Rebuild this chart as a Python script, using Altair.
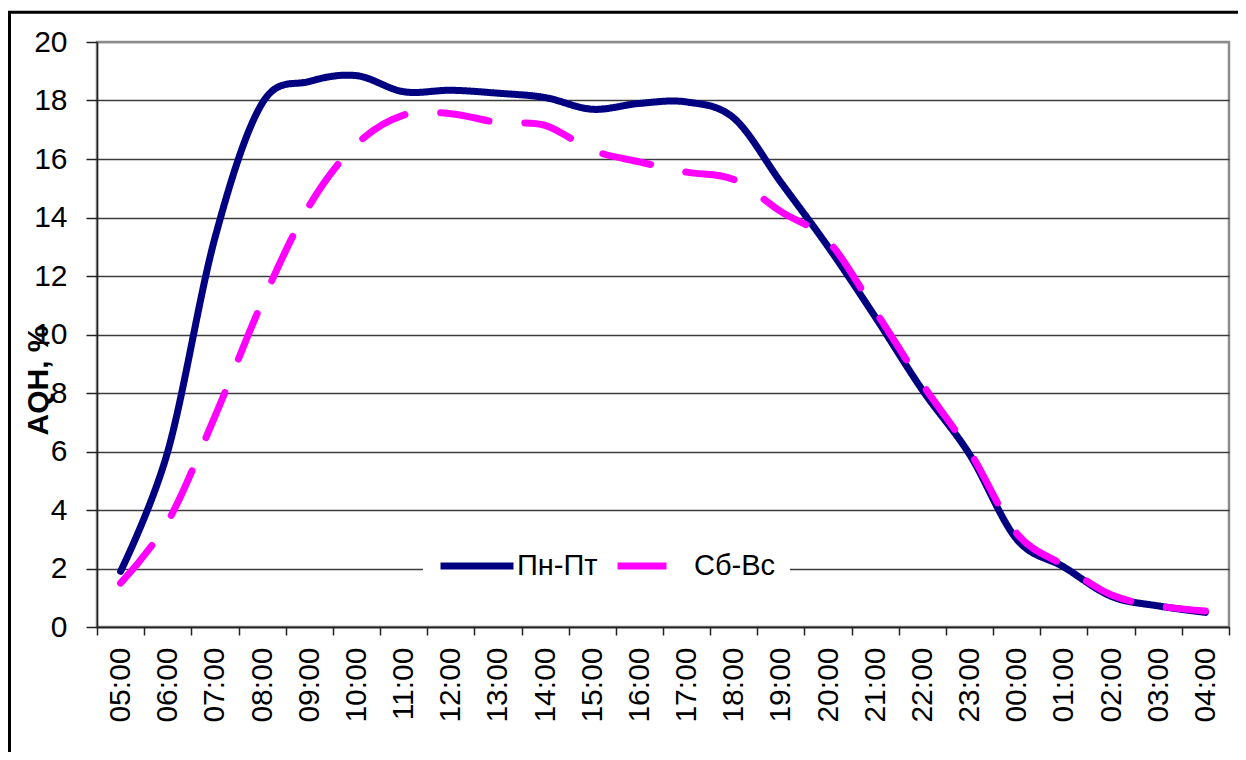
import altair as alt
import pandas as pd

FONT = "Liberation Sans"

hours = ["05:00", "06:00", "07:00", "08:00", "09:00", "10:00", "11:00", "12:00",
         "13:00", "14:00", "15:00", "16:00", "17:00", "18:00", "19:00", "20:00",
         "21:00", "22:00", "23:00", "00:00", "01:00", "02:00", "03:00", "04:00"]
weekday = [1.9, 6.0, 13.3, 17.9, 18.65, 18.85, 18.3, 18.35, 18.25, 18.1, 17.7, 17.9,
           17.95, 17.4, 15.2, 13.0, 10.6, 8.1, 5.9, 3.0, 2.05, 1.05, 0.72, 0.5]
weekend = [1.5, 3.6, 7.2, 11.1, 14.4, 16.5, 17.5, 17.55, 17.25, 17.15, 16.3, 15.9,
           15.55, 15.3, 14.2, 13.2, 10.8, 8.3, 6.0, 3.2, 2.1, 1.1, 0.72, 0.55]
series = ["Пн-Пт", "Сб-Вс"]
colors = ["#000080", "#ff00ff"]
y_ticks = [0, 2, 4, 6, 8, 10, 12, 14, 16, 18, 20]

rows = []
for s, vals in zip(series, [weekday, weekend]):
    for h, v in zip(hours, vals):
        rows.append({"hour": h, "series": s, "style": s, "value": v})
df = pd.DataFrame(rows)

grid_color = alt.condition("datum.value == 20", alt.value("#8c8c8c"), alt.value("#3c3c3c"))

lines = alt.Chart(df).mark_line(
    strokeWidth=7, strokeCap="round", strokeJoin="round", interpolate="cardinal"
).encode(
    x=alt.X("hour:N", sort=hours, bandPosition=0.5,
            scale=alt.Scale(type="band", paddingInner=0, paddingOuter=0),
            axis=alt.Axis(title=None, labelAngle=270, labelAlign="right", labelBaseline="middle",
                          labelFontSize=30, labelFont=FONT, labelColor="black", labelPadding=12,
                          labelOverlap=False, tickSize=8, tickBand="extent", tickColor="#222",
                          tickWidth=1.5, domainColor="#222", domainWidth=1.5, grid=False)),
    y=alt.Y("value:Q", scale=alt.Scale(domain=[0, 20], nice=False, zero=True),
            axis=alt.Axis(values=y_ticks, title="AQH, %", titleFontSize=30, titleFontWeight="bold",
                          titleFont=FONT, titleColor="black", titleX=-50, titleY=338, titleAngle=270,
                          titleAlign="center", titleBaseline="alphabetic",
                          labelFontSize=30, labelFont=FONT, labelColor="black", labelPadding=19,
                          tickSize=11, tickColor="#222", tickWidth=1.5,
                          domainColor="#222", domainWidth=1.5,
                          grid=True, gridColor=grid_color, gridWidth=1.5)),
    color=alt.Color("series:N", scale=alt.Scale(domain=series, range=colors),
                    legend=alt.Legend(title=None, orient="none", legendX=326, legendY=470,
                                      direction="horizontal", fillColor="white", padding=14,
                                      labelFontSize=29, labelFont=FONT, labelColor="black",
                                      labelOffset=0, columnPadding=5, labelLimit=300,
                                      symbolType="stroke", symbolStrokeWidth=7, symbolSize=5329)),
    strokeDash=alt.StrokeDash("style:N", scale=alt.Scale(domain=series, range=[[1, 0], [49, 36]]),
                              legend=None),
)

frame = alt.Chart(pd.DataFrame({"f": [0]})).mark_rect(
    filled=False, stroke="black", strokeWidth=3, clip=False
).encode(
    x=alt.value(-87.5), x2=alt.value(1150), y=alt.value(-29.7), y2=alt.value(760)
)

chart = alt.layer(lines, frame).properties(
    width=1132, height=585,
    padding={"left": 89, "top": 34, "right": 9, "bottom": 125},
    autosize=alt.AutoSizeParams(type="none"),
    background="white",
).configure_view(stroke="#8c8c8c", strokeWidth=2.5)

chart.save("out.html", embed_options={"renderer": "svg", "actions": False})
